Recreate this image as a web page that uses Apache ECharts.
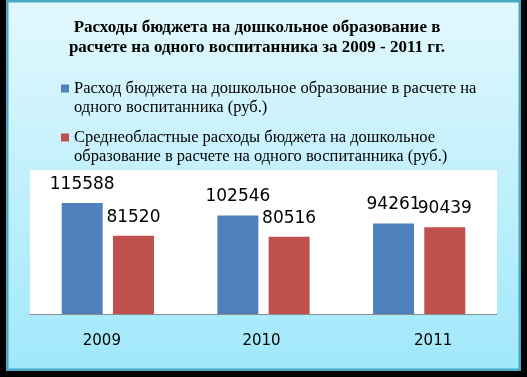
<!DOCTYPE html>
<html>
<head>
<meta charset="utf-8">
<script src="https://cdn.jsdelivr.net/npm/echarts@6/dist/echarts.min.js"></script>
<style>
  html, body { margin: 0; padding: 0; background: #000; }
  #chart { width: 527px; height: 377px; }
</style>
</head>
<body>
<div id="chart"></div>
<script>
// chart data
const years = ["2009", "2010", "2011"];
const budgetPerChild = [115588, 102546, 94261];
const regionalAvgPerChild = [81520, 80516, 90439];
const seriesNames = [
    "Расход бюджета на дошкольное образование в расчете на\nодного воспитанника (руб.)",
    "Среднеобластные расходы бюджета на дошкольное\nобразование в расчете на одного воспитанника (руб.)",
];

// small nudges so the year labels sit where they were in the original
const yearLabelShift = [-6, -2, 14];

const chart = echarts.init(document.getElementById("chart"));

const serif = "Liberation Serif, Times New Roman, serif";
const sans = "DejaVu Sans, sans-serif";

const colors = ["#4f81bd", "#c0504d"];

const makeSeries = (name, data, color) => ({
    name: name,
    type: "bar",
    data: data,
    barWidth: 41,
    barGap: "25%",
    itemStyle: { color: color },
    label: {
        show: true,
        position: "top",
        distance: 10,
        color: "#000",
        fontFamily: sans,
        fontSize: 17,
    },
});

const options = {
    backgroundColor: "#000",
    animation: false,
    color: colors,
    graphic: [
        {
            type: "rect",
            z: -10,
            silent: true,
            shape: { x: 7.25, y: 1.25, width: 512.5, height: 368.5 },
            style: {
                fill: {
                    type: "linear",
                    x: 0, y: 0, x2: 0, y2: 1,
                    colorStops: [
                        { offset: 0, color: "#e2f8fd" },
                        { offset: 1, color: "#a0e8fb" },
                    ],
                },
                stroke: "#4aa8c4",
                lineWidth: 2.5,
            },
        },
    ],
    title: {
        text: "Расходы бюджета на дошкольное образование в\nрасчете на одного воспитанника за 2009 - 2011 гг.",
        left: 257,
        top: 18,
        padding: 0,
        textAlign: "center",
        textStyle: {
            fontFamily: serif,
            fontWeight: "bold",
            fontSize: 17,
            lineHeight: 20,
            color: "#000",
        },
    },
    legend: {
        orient: "vertical",
        left: 56,
        top: 74,
        itemGap: 11,
        itemWidth: 8,
        itemHeight: 27,
        icon: "path://M0,0h8v8h-8zM0,27",
        data: seriesNames,
        textStyle: {
            fontFamily: serif,
            fontSize: 16.5,
            lineHeight: 19,
            color: "#000",
        },
    },
    grid: {
        left: 30,
        right: 30,
        top: 170,
        bottom: 63,
        show: true,
        backgroundColor: "#fff",
        borderWidth: 0,
    },
    xAxis: {
        type: "category",
        data: years.map((y, i) => {
            const d = yearLabelShift[i];
            return {
                value: y,
                textStyle: {
                    padding: d > 0 ? [0, 0, 0, 2 * d] : [0, -2 * d, 0, 0],
                },
            };
        }),
        axisLine: { lineStyle: { color: "#8a8a8a", width: 1 } },
        axisTick: { show: false },
        axisLabel: {
            margin: 20,
            color: "#000",
            fontFamily: sans,
            fontSize: 15,
        },
    },
    yAxis: {
        type: "value",
        min: 0,
        max: 150000,
        show: false,
        splitLine: { show: false },
    },
    series: [
        makeSeries(seriesNames[0], budgetPerChild, colors[0]),
        makeSeries(seriesNames[1], regionalAvgPerChild, colors[1]),
    ],
};

chart.setOption(options);
</script>
</body>
</html>
